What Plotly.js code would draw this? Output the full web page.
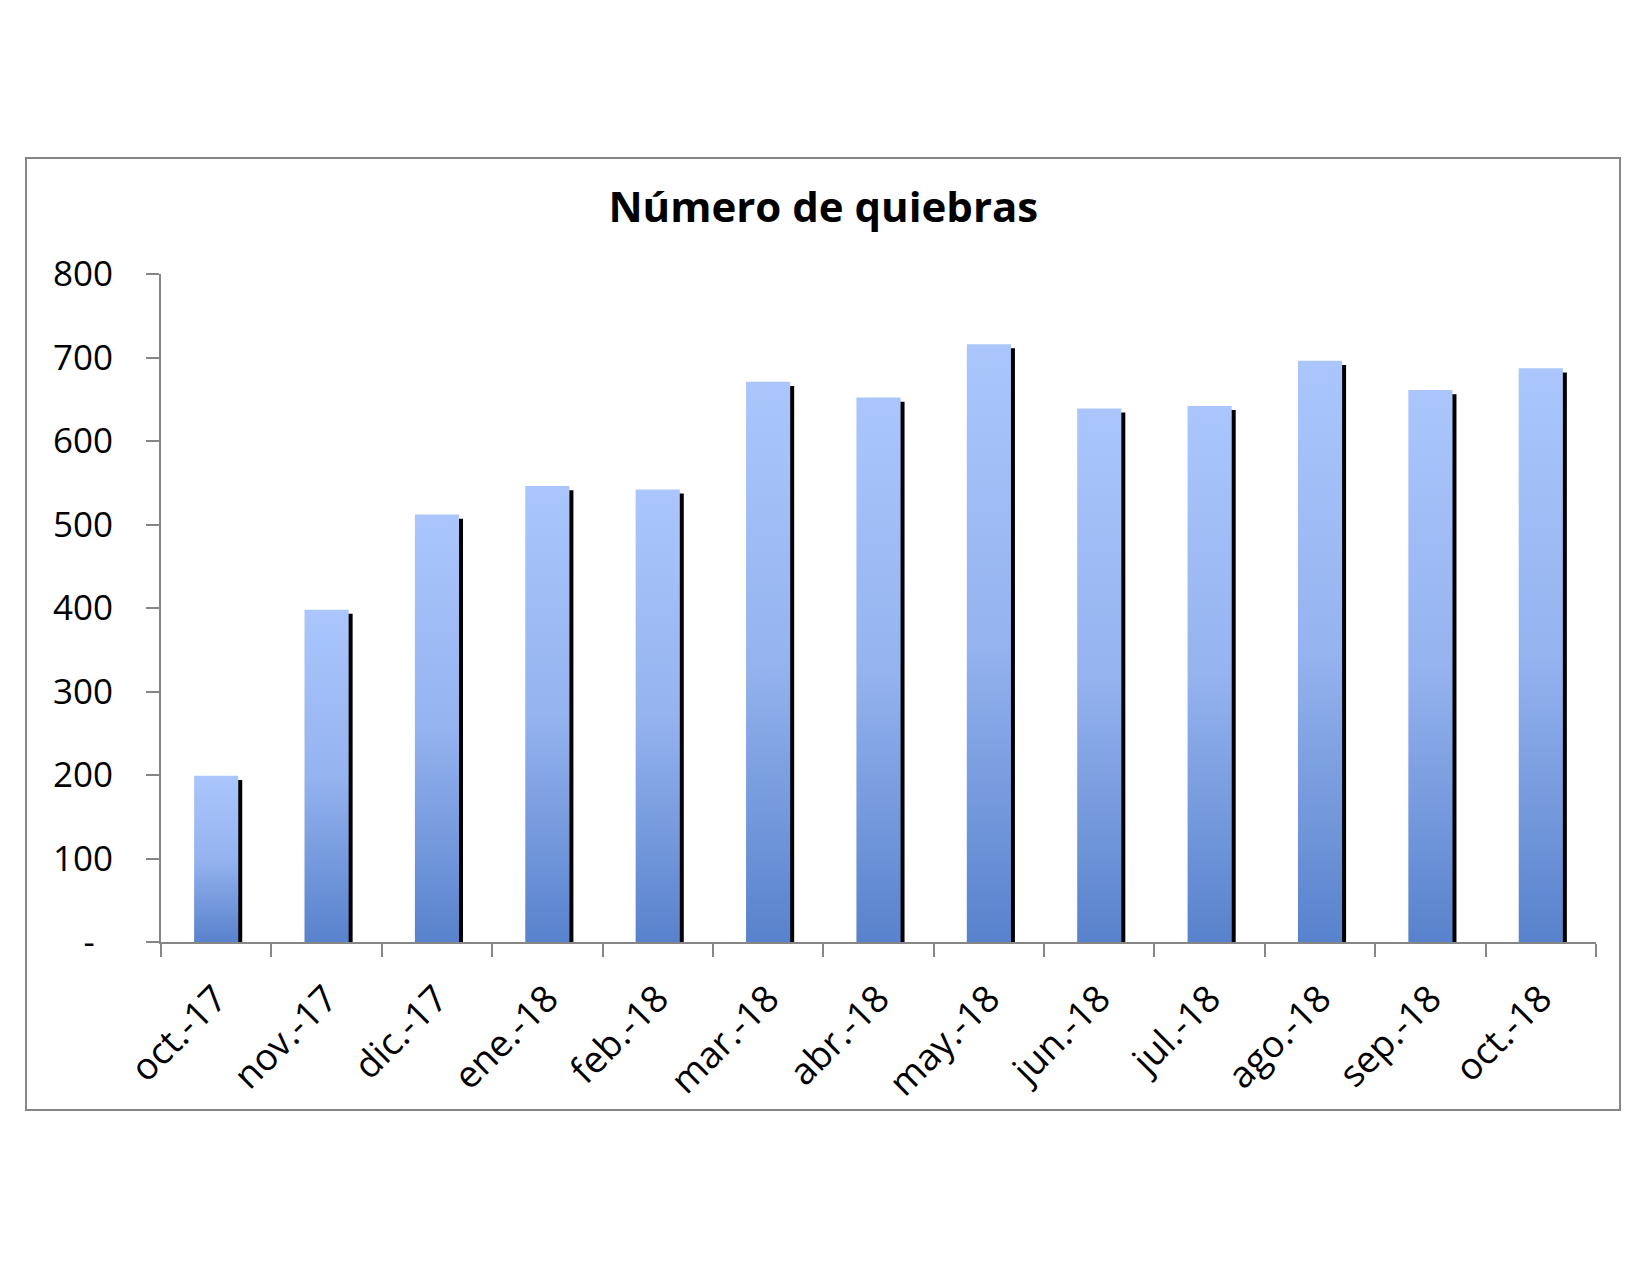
<!DOCTYPE html>
<html>
<head>
<meta charset="utf-8">
<script src="https://cdn.plot.ly/plotly-3.0.1.min.js"></script>
<style>
html,body{margin:0;padding:0;background:#fff;}
#chart{width:1650px;height:1275px;}
</style>
</head>
<body>
<div id="chart"></div>
<script>
// Data
const months = ["oct.-17","nov.-17","dic.-17","ene.-18","feb.-18","mar.-18","abr.-18","may.-18","jun.-18","jul.-18","ago.-18","sep.-18","oct.-18"];
const quiebras = [199, 398, 512, 546, 542, 671, 652, 716, 639, 642, 696, 661, 687];
const yTickVals = [0, 100, 200, 300, 400, 500, 600, 700, 800];
const yTickText = ["-\u00a0\u00a0", "100", "200", "300", "400", "500", "600", "700", "800"];
const chartTitle = "Número de quiebras";

const FONT = "Open Sans, Noto Sans, sans-serif";
const AXIS = "#868686";

const shadow = {
  type: "bar",
  x: months,
  y: quiebras,
  base: -5,
  width: 0.4,
  offset: -0.164,
  marker: {color: "#000000", line: {width: 0}},
  hoverinfo: "skip",
  showlegend: false
};
const bars = {
  type: "bar",
  x: months,
  y: quiebras,
  width: 0.4,
  offset: -0.2,
  marker: {color: "#8aa9e6", line: {width: 0}},
  showlegend: false
};

const layout = {
  width: 1650,
  height: 1275,
  paper_bgcolor: "#ffffff",
  plot_bgcolor: "#ffffff",
  barmode: "overlay",
  margin: {l: 161, r: 54, t: 274, b: 333},
  font: {family: FONT, color: "#000000", size: 34},
  title: {
    text: "<b>" + chartTitle + "</b>",
    font: {family: FONT, size: 42, color: "#000000"},
    x: 0.499, xref: "container", xanchor: "center",
    y: 1 - 207/1275, yref: "container", yanchor: "middle"
  },
  xaxis: {
    type: "category",
    range: [-0.5, 12.5],
    tickson: "boundaries",
    ticks: "outside",
    ticklen: 13,
    tickwidth: 2,
    tickcolor: AXIS,
    showline: true,
    linecolor: AXIS,
    linewidth: 2,
    showgrid: false,
    zeroline: false,
    tickangle: -45,
    ticklabelstandoff: 18,
    tickfont: {family: FONT, size: 37, color: "#000000"}
  },
  yaxis: {
    range: [0, 800],
    tickvals: yTickVals,
    ticktext: yTickText,
    ticks: "outside",
    ticklen: 13,
    tickwidth: 2,
    tickcolor: AXIS,
    showline: true,
    linecolor: AXIS,
    linewidth: 2,
    showgrid: false,
    zeroline: false,
    ticklabelstandoff: 26,
    tickfont: {family: FONT, size: 35, color: "#000000"}
  },
  shapes: [{
    type: "rect", xref: "paper", yref: "paper",
    x0: (26 - 161) / 1435, x1: (1620 - 161) / 1435,
    y0: (942 - 1110) / 668, y1: (942 - 158) / 668,
    line: {color: AXIS, width: 2},
    fillcolor: "rgba(0,0,0,0)",
    layer: "below"
  }]
};

Plotly.newPlot("chart", [shadow, bars], layout, {displayModeBar: false, staticPlot: true}).then(function(gd){
  const svg = gd.querySelector(".main-svg");
  const NS = "http://www.w3.org/2000/svg";
  let defs = svg.querySelector("defs");
  if (!defs) { defs = document.createElementNS(NS, "defs"); svg.insertBefore(defs, svg.firstChild); }
  const grad = document.createElementNS(NS, "linearGradient");
  grad.setAttribute("id", "barGrad");
  grad.setAttribute("x1", "0"); grad.setAttribute("y1", "0");
  grad.setAttribute("x2", "0"); grad.setAttribute("y2", "1");
  [["0", "#aac6fd"], ["0.5", "#95b3ef"], ["1", "#5882cc"]].forEach(function(s){
    const st = document.createElementNS(NS, "stop");
    st.setAttribute("offset", s[0]);
    st.setAttribute("stop-color", s[1]);
    grad.appendChild(st);
  });
  defs.appendChild(grad);
  const traces = gd.querySelectorAll(".barlayer .trace");
  if (traces.length > 1) {
    traces[1].querySelectorAll("path").forEach(function(p){
      p.style.fill = "url(#barGrad)";
    });
  }
});
</script>
</body>
</html>
